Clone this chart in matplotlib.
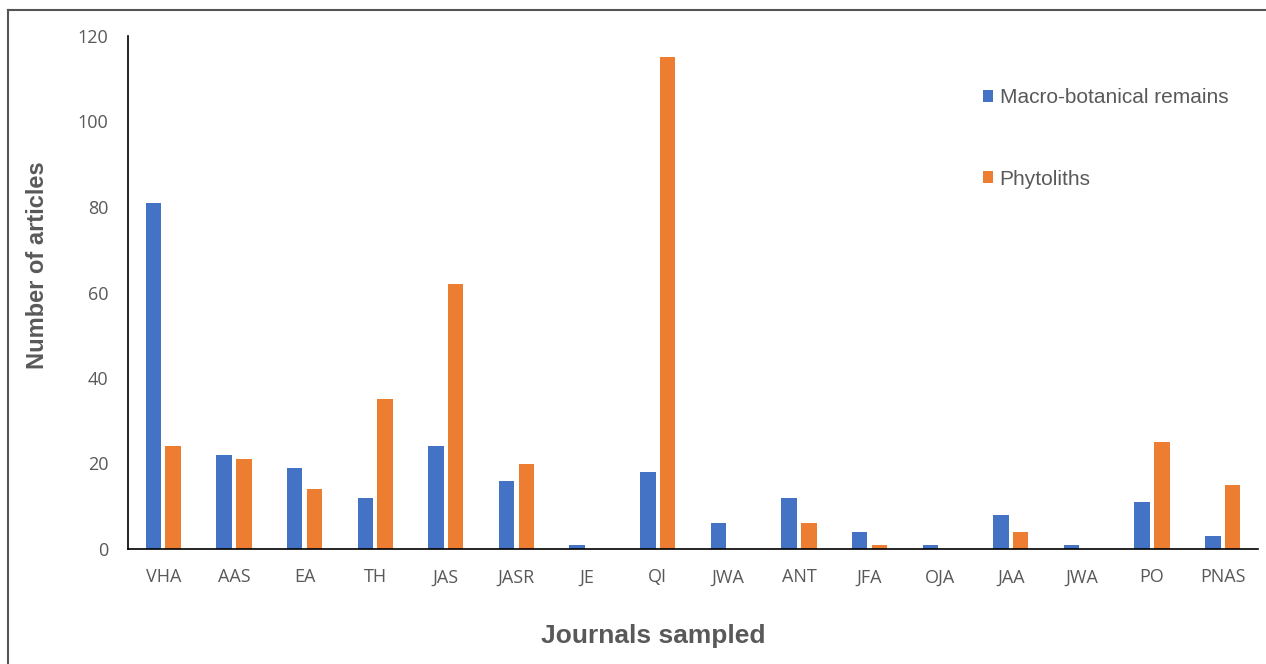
import numpy as np
import matplotlib
matplotlib.use("Agg")
import matplotlib.pyplot as plt
from matplotlib.lines import Line2D

# données
journals = ["VHA", "AAS", "EA", "TH", "JAS", "JASR", "JE", "QI", "JWA", "ANT",
            "JFA", "OJA", "JAA", "JWA", "PO", "PNAS"]
macro = [81, 22, 19, 12, 24, 16, 1, 18, 6, 12, 4, 1, 8, 1, 11, 3]
phyto = [24, 21, 14, 35, 62, 20, 0, 115, 0, 6, 1, 0, 4, 0, 25, 15]
yticks = [0, 20, 40, 60, 80, 100, 120]

blue = "#4472C4"
orange = "#ED7D31"
grey = "#595959"

fig = plt.figure(figsize=(12.66, 6.64), dpi=100)
ax = fig.add_axes([128/1266, 1-549/664, 1130/1266, 513/664])

x = np.arange(len(journals))
w = 0.22
ax.bar(x - 0.14, macro, w, color=blue, label="Macro-botanical remains")
ax.bar(x + 0.14, phyto, w, color=orange, label="Phytoliths")

ax.set_xlim(-0.5, len(journals) - 0.5)
ax.set_ylim(0, 120)
ax.set_yticks(yticks)
ax.set_xticks(x)
ax.set_xticklabels(journals)
ax.tick_params(length=0, labelsize=13, colors=grey)
ax.tick_params(axis="x", pad=14)
ax.tick_params(axis="y", pad=14)
for lab in ax.get_xticklabels() + ax.get_yticklabels():
    lab.set_family("Open Sans")

for s in ["top", "right"]:
    ax.spines[s].set_visible(False)
ax.spines["left"].set_color("black")
ax.spines["bottom"].set_color("black")
ax.spines["left"].set_linewidth(1.2)
ax.spines["bottom"].set_linewidth(1.2)

fig.text(38/1266, 1-265/664, "Number of articles", rotation=90, ha="center", va="center",
         fontsize=17, fontweight="bold", color=grey, family="Liberation Sans")
fig.text(653/1266, 1-636/664, "Journals sampled", ha="center", va="center",
         fontsize=19, fontweight="bold", color=grey, family="Liberation Sans")

leg = ax.legend(loc="upper left", bbox_to_anchor=(0.74, 0.935), frameon=False,
                prop={"family": "Liberation Sans", "size": 15}, labelspacing=3.0,
                handlelength=0.5, handleheight=0.5, handletextpad=0.3, labelcolor=grey)

# cadre gris autour de la figure
fig.add_artist(Line2D([8/1266, 8/1266], [0, 1-10/664], transform=fig.transFigure,
                      color="#555555", lw=1.5))
fig.add_artist(Line2D([8/1266, 1], [1-10/664, 1-10/664], transform=fig.transFigure,
                      color="#555555", lw=1.5))

fig.savefig("out.png", dpi=100, facecolor="white")
